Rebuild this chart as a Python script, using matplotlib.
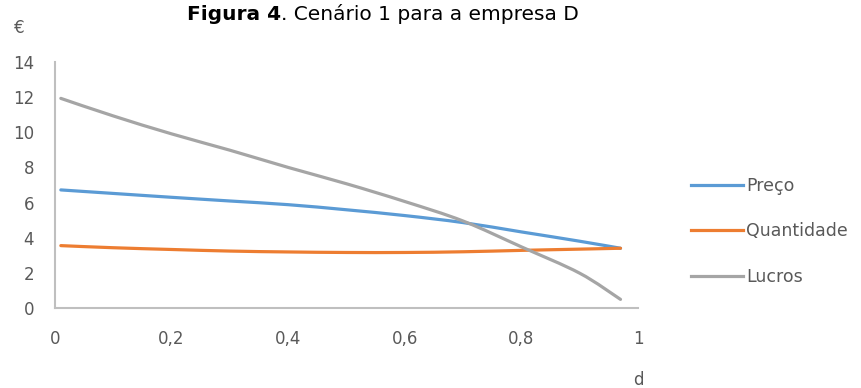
import matplotlib.pyplot as plt
from matplotlib.path import Path
from matplotlib.patches import PathPatch
from matplotlib.lines import Line2D

# Valores lidos por ponto de d
d = [0.01, 0.1, 0.2, 0.3, 0.4, 0.5, 0.6, 0.7, 0.8, 0.9, 0.97]
preco = [6.72, 6.52, 6.30, 6.09, 5.88, 5.59, 5.26, 4.86, 4.33, 3.80, 3.4]
quantidade = [3.55, 3.43, 3.33, 3.24, 3.19, 3.16, 3.16, 3.2, 3.28, 3.35, 3.4]
lucros = [11.93, 10.93, 9.91, 8.98, 8.0, 7.07, 6.06, 4.95, 3.48, 1.98, 0.49]

series = [("Preço", preco, "#5B9BD5"),
          ("Quantidade", quantidade, "#ED7D31"),
          ("Lucros", lucros, "#A5A5A5")]


def linha_suave(xs, ys):
    # curva de Bézier a passar pelos pontos (linha suavizada, tipo Excel)
    verts = [(xs[0], ys[0])]
    codes = [Path.MOVETO]
    n = len(xs)
    for i in range(n - 1):
        x0, y0 = (xs[i - 1], ys[i - 1]) if i > 0 else (xs[i], ys[i])
        x1, y1 = xs[i], ys[i]
        x2, y2 = xs[i + 1], ys[i + 1]
        x3, y3 = (xs[i + 2], ys[i + 2]) if i + 2 < n else (x2, y2)
        c1 = (x1 + (x2 - x0) / 6, y1 + (y2 - y0) / 6)
        c2 = (x2 - (x3 - x1) / 6, y2 - (y3 - y1) / 6)
        verts += [c1, c2, (x2, y2)]
        codes += [Path.CURVE4] * 3
    return Path(verts, codes)


plt.rcParams['font.family'] = ['DejaVu Sans']
cor_texto = "#595959"

fig = plt.figure(figsize=(8.61, 3.88), dpi=100)
ax = fig.add_axes([55 / 861, 1 - 308 / 388, 583 / 861, 246 / 388])

handles = []
for nome, valores, cor in series:
    ax.add_patch(PathPatch(linha_suave(d, valores), facecolor='none', edgecolor=cor,
                           linewidth=2.3, capstyle='round'))
    handles.append(Line2D([], [], color=cor, linewidth=2.3, label=nome))

ax.set_xlim(0, 1)
ax.set_ylim(0, 14)
ax.set_xticks([0, 0.2, 0.4, 0.6, 0.8, 1])
ax.set_xticklabels(["0", "0,2", "0,4", "0,6", "0,8", "1"])
ax.set_yticks(range(0, 15, 2))
ax.tick_params(length=0, colors=cor_texto, labelsize=12)
ax.tick_params(axis='x', pad=16)
ax.tick_params(axis='y', pad=15)

for lado in ['top', 'right']:
    ax.spines[lado].set_visible(False)
for lado in ['left', 'bottom']:
    ax.spines[lado].set_color("#BFBFBF")
    ax.spines[lado].set_linewidth(1.5)

fig.text(19 / 861, 1 - 28 / 388, "€", color=cor_texto, fontsize=12, ha='center', va='center')
fig.text(638 / 861, 1 - 371 / 388, "d", color=cor_texto, fontsize=12, ha='center', va='top')

# Título com a parte inicial em negrito
titulo = fig.text(187 / 861, 1 - 20 / 388, "Figura 4", fontsize=14.5, fontweight='bold',
                  va='baseline', ha='left')
fig.canvas.draw()
bb = titulo.get_window_extent()
fig.text(bb.x1 / 861, 1 - 20 / 388, ". Cenário 1 para a empresa D", fontsize=14.5,
         va='baseline', ha='left')

ax.legend(handles=handles, loc='upper left', bbox_to_anchor=(682 / 861, 1 - 168 / 388),
          bbox_transform=fig.transFigure, frameon=False, fontsize=12.5,
          labelcolor=cor_texto, handlelength=3.0, handletextpad=0.2,
          labelspacing=1.6, borderpad=0)

fig.savefig("out.png", dpi=100)
